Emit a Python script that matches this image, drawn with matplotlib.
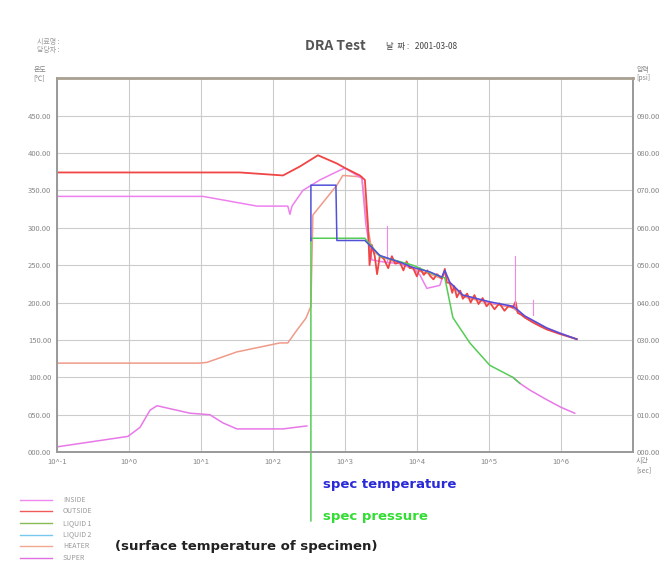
import numpy as np
import matplotlib
matplotlib.use("Agg")
import matplotlib.pyplot as plt

plt.rcParams['font.family'] = ['Noto Sans CJK KR', 'DejaVu Sans']

# ------------------ data (time in sec, temperature in deg C) ------------------
x_ticks = [1e-1, 1e0, 1e1, 1e2, 1e3, 1e4, 1e5, 1e6]
x_labels = ["10^-1", "10^0", "10^1", "10^2", "10^3", "10^4", "10^5", "10^6"]
left_ticks = [0, 50, 100, 150, 200, 250, 300, 350, 400, 450]
right_ticks = [0, 10, 20, 30, 40, 50, 60, 70, 80, 90]

outside_t = [0.1, 34.8, 138, 237, 422, 774, 1000, 1616, 1896, 2086, 2200, 2371, 2600,
             2800, 3062, 3500, 4000, 4500, 5000, 5808, 6500, 7200, 8000, 8790, 10000,
             11000, 12500, 14000, 15170, 17000, 19000, 22230, 24480, 26000, 28730,
             31000, 33000, 36000, 40000, 43550, 50000, 56000, 63000, 72000, 82000,
             93000, 103300, 120000, 140000, 165000, 190000, 215400, 235000, 252800,
             280000, 316200, 400000, 500000, 639300, 968000, 1667000]
outside_v = [374, 374, 370, 382, 397, 386, 380, 370, 364, 306, 250, 277, 262,
             238, 263, 258, 246, 262, 252, 254, 243, 255, 246, 247, 235,
             246, 237, 243, 236, 231, 238, 232, 245, 227, 226,
             213, 222, 207, 216, 205, 212, 200, 210, 198, 206,
             195, 200, 191, 199, 189, 196, 193, 201, 186,
             184, 180, 174, 169, 164, 158, 151]

inside_t = [0.1, 10.7, 60, 161, 172, 184, 261, 449, 853, 1000, 1722, 1957, 2371, 3594,
            5808, 8790, 11010, 13770, 20850, 22960, 24480, 28730, 43550, 103300,
            215400, 316200, 639300, 1667000]
inside_v = [342, 342, 329, 329, 318, 329, 350, 364, 377, 380, 366, 304, 257, 254,
            252, 246, 237, 219, 223, 235, 242, 227, 210, 200,
            195, 182, 166, 151]

heater_t = [0.1, 9.7, 12.1, 31.6, 125, 161, 215, 287, 337, 359, 774, 937, 1722, 2024,
            2371, 3062, 5808, 8790, 15170, 22230, 24480, 28730, 43550, 103300,
            215400, 316200, 639300, 1667000]
heater_v = [119, 119, 120, 134, 146, 146, 163, 179, 195, 317, 357, 370, 368, 307,
            270, 262, 252, 245, 238, 232, 240, 225, 208, 199,
            193, 180, 165, 151]

super_t = [0.1, 0.968, 1.42, 1.96, 2.45, 7.03, 13.3, 20.2, 31.6, 138, 296, np.nan,
           215400, 270000, 370700, 639300, 1000000, 1563000]
super_v = [7, 21, 33, 56, 62, 52, 50, 39, 31, 31, 35, np.nan,
           100, 92, 83, 70, 60, 52]

spec_temp_t = [337, 337, 750, 774, 1896, 3062, 5808, 8790, 15170, 22230, 24480, 28730,
               43550, 103300, 215400, 252800, 316200, 639300, 968000, 1667000]
spec_temp_v = [283, 357, 357, 283, 283, 263, 254, 247, 241, 234, 243, 227,
               210, 201, 195, 190, 182, 166, 159, 151]

spec_pres_t = [337, 337, 1896, 3062, 8790, 15170, 22230, 24480, 31620, 54450, 103300,
               215400, 270000]
spec_pres_v = [-92, 286, 286, 262, 250, 240, 234, 233, 180, 146, 116, 100, 92]

spike_t = [3830, 229600, 408000]
spike_lo = [256, 196, 183]
spike_hi = [303, 262, 204]

legend_names = ["INSIDE", "OUTSIDE", "LIQUID 1", "LIQUID 2", "HEATER", "SUPER"]
legend_colors = ["#ee88ee", "#f05a5a", "#88bb55", "#77c8ee", "#f0a890", "#e070e0"]

# ------------------ figure ------------------
fig = plt.figure(figsize=(6.71, 5.63), dpi=100)
ax = fig.add_axes([0.085, 0.197, 0.858, 0.664])

ax.set_xscale("log")
ax.set_xlim(1e-1, 1e7)
ax.set_ylim(0, 500)

ax.plot(super_t, super_v, color="#e878e8", lw=1.1)
ax.plot(heater_t, heater_v, color="#f09a8a", lw=1.1)
ax.plot(inside_t, inside_v, color="#ee80ee", lw=1.1)
ax.plot(outside_t, outside_v, color="#f04545", lw=1.3)
for t, lo, hi in zip(spike_t, spike_lo, spike_hi):
    ax.plot([t, t], [lo, hi], color="#f088e8", lw=0.8)
ax.plot(spec_pres_t, spec_pres_v, color="#55cc55", lw=1.1, clip_on=False)
ax.plot(spec_temp_t, spec_temp_v, color="#5050d8", lw=1.1)

# grid / axes
ax.set_xticks(x_ticks)
ax.set_xticklabels(x_labels)
ax.xaxis.set_minor_locator(matplotlib.ticker.NullLocator())
ax.set_yticks(left_ticks)
ax.set_yticklabels([f"{v:06.2f}" for v in left_ticks])
ax.grid(True, color="#cccccc", lw=0.8)
ax.tick_params(length=0, labelsize=5.5, labelcolor="#888888", pad=4)
for s in ax.spines.values():
    s.set_color("#999999")
    s.set_linewidth(1.4)
ax.spines["top"].set_color("#a8a090")
ax.spines["top"].set_linewidth(2)

ax2 = ax.twinx()
ax2.set_ylim(0, 100)
ax2.set_yticks(right_ticks)
ax2.set_yticklabels([f"{v:06.2f}" for v in right_ticks])
ax2.tick_params(length=0, labelsize=5.5, labelcolor="#888888", pad=3)
for s in ax2.spines.values():
    s.set_visible(False)

# ------------------ texts ------------------
fig.text(0.5, 0.918, "DRA Test", ha="center", va="center", fontsize=10,
         color="#555555", fontweight="bold")
fig.text(0.055, 0.918, "시료명 :\n담당자 :", ha="left", va="center", fontsize=5,
         color="#999999", linespacing=1.0)
fig.text(0.575, 0.918, "날  짜 :   2001-03-08", ha="left", va="center", fontsize=6,
         color="#444444")
fig.text(0.05, 0.868, "온도\n[℃]", ha="left", va="center", fontsize=5,
         color="#888888", linespacing=1.0)
fig.text(0.948, 0.868, "압력\n[psi]", ha="left", va="center", fontsize=5,
         color="#888888", linespacing=1.0)
fig.text(0.948, 0.173, "시간\n[sec]", ha="left", va="center", fontsize=5,
         color="#888888", linespacing=1.3)

fig.text(0.481, 0.14, "spec temperature", ha="left", va="center", fontsize=9.5,
         color="#2a2ad8", fontweight="bold", family="DejaVu Sans")
fig.text(0.481, 0.082, "spec pressure", ha="left", va="center", fontsize=9.5,
         color="#33dd33", fontweight="bold", family="DejaVu Sans")

# legend at bottom left
for i, (name, col) in enumerate(zip(legend_names, legend_colors)):
    yy = 0.112 - i * 0.0205
    fig.lines.append(matplotlib.lines.Line2D([0.03, 0.078], [yy, yy], color=col, lw=1,
                                             transform=fig.transFigure))
    fig.text(0.094, yy, name, ha="left", va="center", fontsize=5, color="#999999")
fig.text(0.172, 0.029, "(surface temperature of specimen)", ha="left", va="center",
         fontsize=9.5, color="#222222", fontweight="bold", family="DejaVu Sans")

fig.savefig("out.png", dpi=100)
